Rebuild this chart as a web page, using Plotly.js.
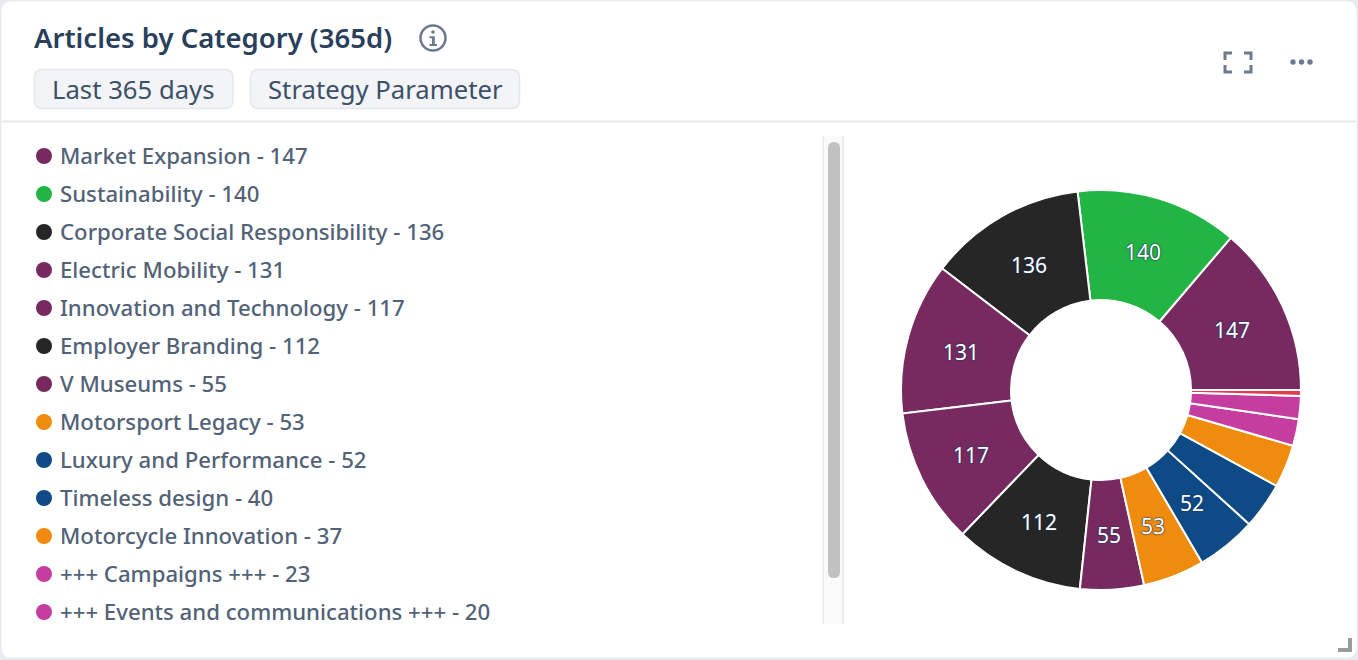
<!DOCTYPE html>
<html>
<head>
<meta charset="utf-8">
<script src="https://cdn.plot.ly/plotly-3.0.1.min.js"></script>
<style>html,body{margin:0;padding:0;background:#fff;overflow:hidden}#chart{width:1358px;height:660px}</style>
</head>
<body>
<div id="chart"></div>
<script>
const categories = ["Market Expansion","Sustainability","Corporate Social Responsibility","Electric Mobility","Innovation and Technology","Employer Branding","V Museums","Motorsport Legacy","Luxury and Performance","Timeless design","Motorcycle Innovation","+++ Campaigns +++","+++ Events and communications +++","Other"];
const values = [147,140,136,131,117,112,55,53,52,40,37,23,20,5];
const colors = ["#762A60","#22B543","#262626","#762A60","#762A60","#262626","#762A60","#EF8C0E","#0E4A85","#0E4A85","#EF8C0E","#C63DA0","#C63DA0","#E23D4E"];
const legendCount = 13;
const chips = ["Last 365 days","Strategy Parameter"];
const titleText = "Articles by Category (365d)";

const W = 1358, H = 660;
const fx = x => x / W, fy = y => 1 - y / H;
const FONT = '"Noto Sans", "Open Sans", sans-serif';

function roundRect(x0, y0, x1, y1, r) {
  const P = (x, y) => fx(x) + "," + fy(y);
  return "M" + P(x0 + r, y0) + " L" + P(x1 - r, y0) + " Q" + P(x1, y0) + " " + P(x1, y0 + r) +
    " L" + P(x1, y1 - r) + " Q" + P(x1, y1) + " " + P(x1 - r, y1) +
    " L" + P(x0 + r, y1) + " Q" + P(x0, y1) + " " + P(x0, y1 - r) +
    " L" + P(x0, y0 + r) + " Q" + P(x0, y0) + " " + P(x0 + r, y0) + " Z";
}
function polyline(pts) {
  return pts.map((p, i) => (i ? "L" : "M") + fx(p[0]) + "," + fy(p[1])).join(" ");
}
const shape = o => Object.assign({xref: "paper", yref: "paper", layer: "below"}, o);
const pathShape = (path, fill, lineColor, lineWidth) => shape({type: "path", path, fillcolor: fill, line: {color: lineColor || "rgba(0,0,0,0)", width: lineWidth === undefined ? 0 : lineWidth}});
const circle = (cx, cy, r, fill, lineColor, lineWidth) => shape({type: "circle", x0: fx(cx - r), x1: fx(cx + r), y0: fy(cy + r), y1: fy(cy - r), fillcolor: fill, line: {color: lineColor || "rgba(0,0,0,0)", width: lineWidth || 0}});
const rect = (x0, y0, x1, y1, fill) => shape({type: "rect", x0: fx(x0), x1: fx(x1), y0: fy(y1), y1: fy(y0), fillcolor: fill, line: {width: 0}});
const text = (x, y, t, size, color, extra) => Object.assign({xref: "paper", yref: "paper", x: fx(x), y: fy(y), xanchor: "left", yanchor: "middle", text: t, showarrow: false, font: {family: FONT, size, color}, borderpad: 0, borderwidth: 0}, extra || {});

const shapes = [];
const annotations = [];

// card
shapes.push(rect(0, 0, W, H, "#E8ECF0"));
shapes.push(pathShape(roundRect(1.5, 1.5, 1356.5, 657.5, 10), "#FFFFFF"));
shapes.push(rect(2, 120.5, 1356, 122.5, "#E6EAEE"));

// filter chips
const chipBoxes = [[34, 233.5], [250, 520]];
chips.forEach((c, i) => {
  shapes.push(pathShape(roundRect(chipBoxes[i][0] + 0.5, 69.5, chipBoxes[i][1] - 0.5, 108.5, 8), "#F3F4F7", "#E4E8EE", 1.5));
  annotations.push(text(chipBoxes[i][0] + 18, 89.5, c, 25.7, "#3C5068"));
});

// info icon
shapes.push(circle(433, 38, 12.5, "rgba(0,0,0,0)", "#6B7A8D", 2.5));
shapes.push(circle(433, 32, 1.8, "#6B7A8D"));
shapes.push(pathShape(polyline([[429.5, 36.2], [434.8, 36.2], [434.8, 44], [437, 44], [437, 46], [429.5, 46], [429.5, 44], [432, 44], [432, 38.3], [429.5, 38.3]]) + " Z", "#6B7A8D"));

// fullscreen icon
const iconLine = (pts) => shape({type: "path", path: polyline(pts), line: {color: "#6B7A8D", width: 3}, fillcolor: "rgba(0,0,0,0)"});
shapes.push(iconLine([[1232, 53], [1225, 53], [1225, 60]]));
shapes.push(iconLine([[1244, 53], [1251, 53], [1251, 60]]));
shapes.push(iconLine([[1225, 65], [1225, 72], [1232, 72]]));
shapes.push(iconLine([[1251, 65], [1251, 72], [1244, 72]]));

// more icon
[1293, 1301.5, 1310].forEach(x => shapes.push(circle(x, 62, 2.7, "#6B7A8D")));

// legend list
for (let i = 0; i < legendCount; i++) {
  const y = 156 + i * 38;
  shapes.push(circle(44, y, 8, colors[i]));
  annotations.push(text(60, y - 0.5, categories[i] + " - " + values[i], 22.2, "#526277", {font: {family: FONT, size: 22.2, color: "#526277", weight: 500}}));
}

// scrollbar
shapes.push(rect(822.5, 136, 844, 624, "#E9E9E9"));
shapes.push(rect(824, 136, 842.5, 624, "#FAFAFA"));
shapes.push(pathShape(roundRect(828, 142, 840, 578, 6), "#C1C1C1"));

// resize handle
shapes.push(pathShape(polyline([[1352, 638], [1352, 652], [1338, 652], [1338, 648], [1348, 648], [1348, 638]]) + " Z", "#9B9B9B"));

const cx = 1101, cy = 390, R = 200, HOLE = 0.45;

// value labels sit at the middle of the ring, at each slice's middle angle
const total = values.reduce((a, b) => a + b, 0);
let running = 0;
values.forEach(v => {
  const mid = (running + v / 2) / total * 2 * Math.PI;
  running += v;
  if (v < 50) return;
  const r = R * (1 + HOLE) / 2;
  annotations.push(text(cx + r * Math.cos(mid) - 0.5, cy - r * Math.sin(mid) + 0.7, String(v), 21, "#FFFFFF", {
    xanchor: "center",
    font: {family: FONT, size: 21, color: "#FFFFFF", shadow: "0px 0px 1px #1F3A5F, 0px 0px 1px #1F3A5F, 0px 0px 2px #1F3A5F"}
  }));
});

const pieTrace = {
  type: "pie",
  labels: categories,
  values: values,
  textinfo: "none",
  hoverinfo: "label+value",
  hole: HOLE,
  sort: false,
  direction: "counterclockwise",
  rotation: 40.45,
  marker: {colors: colors, line: {color: "#FFFFFF", width: 2}},
  domain: {x: [fx(cx - R), fx(cx + R)], y: [fy(cy + R), fy(cy - R)]},
  showlegend: false
};

const layout = {
  width: W, height: H,
  margin: {l: 0, r: 0, t: 0, b: 0, pad: 0},
  paper_bgcolor: "#FFFFFF",
  plot_bgcolor: "#FFFFFF",
  showlegend: false,
  title: {text: titleText, x: fx(34), xref: "paper", xanchor: "left", y: fy(38), yref: "paper", yanchor: "middle", pad: {l: 0, r: 0, t: 0, b: 0}, font: {family: FONT, size: 27.5, color: "#2A3F5C", weight: 600}},
  shapes, annotations
};
Plotly.newPlot("chart", [pieTrace], layout, {displayModeBar: false, responsive: false});
</script>
</body>
</html>
